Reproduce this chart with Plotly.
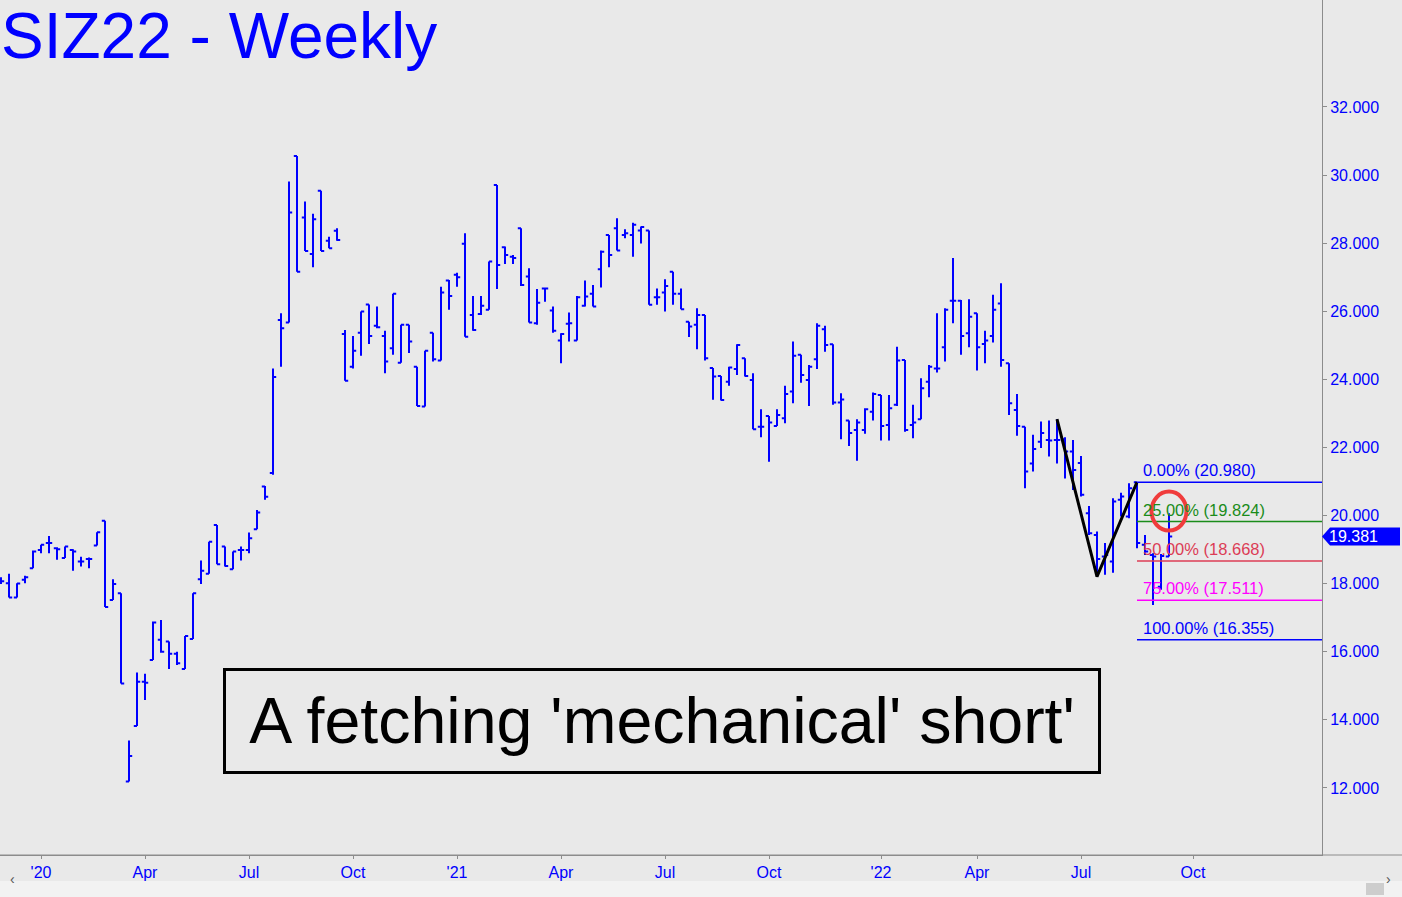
import plotly.graph_objects as go
import pandas as pd

# ---------------- data (weekly bars, Friday-dated) ----------------
first_week = "2019-11-29"

opens = [18.11, 18.01, 17.59, 18.11, 18.45, 18.99, 19.19, 19.04, 18.75, 18.99,
         18.65, 18.72, 19.12, 19.85, 17.52, 17.72, 12.19, 13.82, 15.12, 15.76,
         16.35, 16.30, 15.94, 15.49, 16.37, 18.13, 18.29, 19.72, 19.09, 18.42,
         18.99, 18.99, 19.60, 20.85, 21.25, 25.74, 25.67, 30.56, 28.75, 27.68,
         29.54, 28.07, 28.36, 25.33, 24.37, 25.37, 26.20, 25.57, 25.27, 24.91,
         24.49, 25.60, 24.37, 23.20, 25.37, 24.55, 26.90, 27.07, 27.98, 25.89,
         25.92, 26.04, 29.71, 27.88, 27.60, 28.44, 27.02, 25.65, 26.67, 26.02,
         25.14, 25.63, 25.14, 26.16, 26.51, 27.23, 28.24, 28.44, 28.24, 28.24,
         28.37, 28.37, 26.41, 26.55, 27.16, 26.51, 25.69, 25.60, 25.89, 24.33,
         24.10, 23.93, 24.30, 24.62, 23.98, 22.61, 22.92, 22.63, 22.86, 23.64,
         24.72, 23.98, 24.59, 25.47, 25.03, 23.32, 22.79, 22.51, 22.51, 23.05,
         23.54, 22.66, 23.25, 24.57, 22.66, 22.83, 23.93, 24.32, 24.94, 26.31,
         26.31, 25.35, 25.94, 25.04, 25.27, 26.23, 24.47, 23.10, 22.61, 21.53,
         22.17, 22.22, 22.22, 22.24, 21.88, 21.54, 20.07, 19.43, 18.80, 18.65,
         20.46, 19.97, 20.98, 19.14, 18.84, 17.91, 18.80]
highs = [18.19, 18.29, 18.01, 18.23, 18.97, 19.14, 19.40, 19.07, 19.09, 19.01,
         18.79, 18.77, 19.51, 19.85, 18.13, 17.72, 13.39, 15.39, 15.35, 16.89,
         16.93, 16.30, 16.00, 16.46, 17.72, 18.68, 19.23, 19.72, 19.09, 18.94,
         19.09, 19.50, 20.16, 20.87, 24.32, 25.94, 29.81, 30.56, 29.22, 28.86,
         29.54, 28.19, 28.44, 25.45, 25.27, 25.99, 26.20, 26.14, 25.43, 26.51,
         25.60, 25.60, 24.37, 24.84, 25.37, 26.72, 26.92, 27.13, 28.29, 26.45,
         26.45, 27.46, 29.71, 27.90, 27.65, 28.44, 27.26, 26.65, 26.70, 26.14,
         25.35, 25.96, 26.45, 26.90, 26.77, 27.78, 28.24, 28.73, 28.41, 28.60,
         28.49, 28.37, 26.67, 26.94, 27.16, 26.67, 25.69, 26.09, 25.89, 24.33,
         24.10, 24.37, 25.03, 24.62, 24.18, 23.12, 22.92, 23.12, 23.81, 25.11,
         24.72, 24.42, 25.65, 25.57, 25.03, 23.59, 22.79, 22.83, 23.15, 23.61,
         23.54, 23.54, 24.96, 24.57, 23.25, 24.03, 24.42, 25.94, 26.09, 27.56,
         26.33, 26.35, 25.94, 25.43, 26.48, 26.82, 24.47, 23.57, 22.61, 22.37,
         22.76, 22.79, 22.83, 22.30, 22.22, 21.75, 20.28, 19.53, 19.19, 20.51,
         20.67, 20.95, 20.98, 19.43, 18.89, 18.87, 20.07]
lows = [17.99, 17.59, 17.59, 18.01, 18.45, 18.89, 18.89, 18.70, 18.75, 18.38,
        18.50, 18.45, 19.12, 17.31, 17.52, 15.07, 12.19, 13.82, 14.58, 15.76,
        15.97, 15.49, 15.61, 15.49, 16.37, 17.99, 18.29, 18.57, 18.50, 18.42,
        18.68, 18.89, 19.60, 20.46, 21.20, 24.37, 25.67, 27.16, 27.77, 27.29,
        27.77, 27.85, 28.07, 23.96, 24.32, 24.69, 25.04, 25.50, 24.18, 24.72,
        24.49, 24.77, 23.22, 23.20, 24.52, 24.55, 26.04, 26.72, 25.25, 25.43,
        25.89, 26.04, 26.65, 27.39, 27.39, 26.74, 25.67, 25.60, 26.28, 25.37,
        24.47, 25.11, 25.14, 26.14, 26.14, 26.70, 27.29, 27.78, 28.14, 27.60,
        27.99, 26.19, 26.19, 25.99, 26.19, 26.06, 25.24, 24.88, 24.55, 23.40,
        23.38, 23.81, 24.13, 24.08, 22.53, 22.30, 21.58, 22.63, 22.71, 23.30,
        23.90, 23.22, 24.30, 24.81, 23.25, 22.24, 22.04, 21.61, 22.40, 22.79,
        22.20, 22.20, 23.22, 22.46, 22.27, 22.83, 23.47, 24.20, 24.52, 25.65,
        24.72, 24.94, 24.26, 24.47, 25.08, 24.37, 22.95, 22.34, 20.80, 21.29,
        21.98, 21.73, 21.53, 21.09, 20.75, 20.56, 19.43, 18.205, 18.26, 18.32,
        19.97, 19.92, 19.04, 18.84, 17.37, 17.82, 18.80]
closes = [18.07, 17.59, 18.00, 18.19, 18.94, 19.14, 19.19, 19.01, 19.09, 18.94,
          18.65, 18.72, 19.51, 17.31, 17.99, 15.07, 12.94, 15.12, 15.09, 16.86,
          16.00, 15.94, 15.66, 16.46, 17.72, 18.38, 19.23, 18.57, 18.52, 18.94,
          18.99, 19.33, 20.09, 20.55, 24.07, 25.50, 28.90, 27.16, 27.77, 28.70,
          27.77, 27.85, 28.09, 23.96, 24.84, 25.99, 25.27, 25.53, 24.52, 26.51,
          25.60, 25.11, 23.22, 24.84, 24.59, 26.55, 26.45, 27.00, 25.25, 25.45,
          26.16, 27.46, 27.36, 27.65, 27.56, 26.77, 25.67, 26.25, 26.67, 25.43,
          25.33, 25.65, 26.41, 26.43, 26.14, 27.75, 27.65, 27.78, 28.29, 28.54,
          28.47, 26.19, 26.41, 26.74, 26.51, 26.06, 25.55, 25.89, 24.62, 24.08,
          23.39, 24.35, 25.01, 24.10, 22.53, 22.61, 22.73, 22.95, 23.57, 24.69,
          24.13, 24.37, 25.57, 25.01, 23.32, 23.41, 22.42, 22.73, 23.12, 23.57,
          22.63, 23.15, 24.55, 22.51, 22.73, 23.74, 24.37, 24.32, 26.04, 26.31,
          25.27, 25.84, 24.94, 25.14, 26.04, 24.57, 23.30, 22.63, 21.29, 21.95,
          22.42, 22.20, 22.22, 21.88, 21.34, 20.61, 19.48, 18.72, 18.84, 20.41,
          20.56, 20.80, 19.19, 18.94, 18.80, 18.81, 19.381]

# swing points used for the "mechanical" (ABC) target
swing_bars = [132, 137, 142]
swing_vals = [22.83, 18.205, 20.98]
fib_pcts = [0, 25, 50, 75, 100]
fib_colors = ["#0000FF", "#1A8C1A", "#DC3C55", "#FF00FF", "#0000FF"]

tick_dates = ["2020-01-03", "2020-04-03", "2020-07-03", "2020-10-02", "2021-01-01",
              "2021-04-02", "2021-07-02", "2021-10-01", "2022-01-07", "2022-04-01",
              "2022-07-01", "2022-10-07"]
tick_text = ["'20", "Apr", "Jul", "Oct", "'21", "Apr", "Jul", "Oct", "'22", "Apr", "Jul", "Oct"]
y_ticks = [12, 14, 16, 18, 20, 22, 24, 26, 28, 30, 32]
last_price = closes[-1]

# ---------------- figure ----------------
BG = "#E9E9E9"
BLUE = "#0000FF"
FONT = "Liberation Sans, Arial, sans-serif"
W, H = 1402, 897
ML, MR, MT, MB = 0, 80, 0, 42
PW, PH = W - ML - MR, H - MT - MB
y_lo, y_hi = 10.03, 35.14

dates = pd.date_range(first_week, periods=len(opens), freq="7D")
base = pd.Timestamp(first_week)
x_lo = base - pd.Timedelta(days=0.125 * 7)
x_hi = base + pd.Timedelta(days=165.125 * 7)


def px_x(p):
    return (p - ML) / PW


def px_y(p):
    return (MT + PH - p) / PH


def val_to_py(v):
    return MT + PH * (1 - (v - y_lo) / (y_hi - y_lo))


fig = go.Figure()
fig.add_trace(go.Ohlc(
    x=dates, open=opens, high=highs, low=lows, close=closes,
    increasing=dict(line=dict(color=BLUE, width=2)),
    decreasing=dict(line=dict(color=BLUE, width=2)),
    tickwidth=0.4, showlegend=False, hoverinfo="skip"))

# ABC zigzag
fig.add_trace(go.Scatter(
    x=[dates[i] for i in swing_bars], y=swing_vals, mode="lines",
    line=dict(color="black", width=3), showlegend=False, hoverinfo="skip"))

A, B, C = swing_vals
target = C - (A - B)
shapes = []
annotations = []
for pct, col in zip(fib_pcts, fib_colors):
    lvl = C - pct / 100 * (C - target)
    shapes.append(dict(type="line", xref="x", yref="y",
                       x0=dates[swing_bars[2]], x1=x_hi, y0=lvl, y1=lvl,
                       line=dict(color=col, width=1.5)))
    annotations.append(dict(x=dates[swing_bars[2]], y=lvl, xref="x", yref="y",
                            xanchor="left", yanchor="middle", xshift=4, yshift=12,
                            text=f"{pct:.2f}% ({lvl:.3f})", showarrow=False,
                            font=dict(family=FONT, size=16.5, color=col)))

# red circle around the latest bar's high
shapes.append(dict(type="circle", xref="x", yref="y", xsizemode="pixel", ysizemode="pixel",
                   xanchor=dates[-1], yanchor=20.13, x0=-17.5, x1=17.5, y0=-19.5, y1=19.5,
                   line=dict(color="#F03C3C", width=4)))

# last price tag
yc = val_to_py(last_price)
pts = [(1322, yc), (1330, yc - 9), (1400, yc - 9), (1400, yc + 9), (1330, yc + 9)]
path = "M " + " L ".join(f"{px_x(a):.5f},{px_y(b):.5f}" for a, b in pts) + " Z"
shapes.append(dict(type="path", xref="paper", yref="paper", path=path,
                   fillcolor=BLUE, line=dict(width=0)))
annotations.append(dict(x=px_x(1327), y=last_price, xref="paper", yref="y",
                        xanchor="left", yanchor="middle", text=f"{last_price:.3f}",
                        showarrow=False, font=dict(family=FONT, size=16, color="white")))

# bottom axis line across the whole width
shapes.append(dict(type="line", xref="paper", yref="paper", x0=0, x1=px_x(W), y0=0, y1=0,
                   line=dict(color="#8C8C8C", width=1)))
# scrollbar
shapes.append(dict(type="rect", xref="paper", yref="paper", x0=0, x1=px_x(W), layer="below",
                   y0=px_y(897), y1=px_y(881), fillcolor="#F2F2F2", line=dict(width=0)))
shapes.append(dict(type="rect", xref="paper", yref="paper", x0=px_x(1366), x1=px_x(1384),
                   layer="below", y0=px_y(895), y1=px_y(883), fillcolor="#CDCDCD",
                   line=dict(width=0)))
for xx, ch in [(8, "\u2039"), (1393, "\u203A")]:
    annotations.append(dict(x=px_x(xx), y=px_y(888.5), xref="paper", yref="paper",
                            text=ch, showarrow=False,
                            font=dict(family=FONT, size=14, color="#555555")))

# title
annotations.append(dict(x=0, y=1, xref="paper", yref="paper", xanchor="left", yanchor="top",
                        text="SIZ22 - Weekly", showarrow=False, xshift=-1, yshift=2,
                        font=dict(family=FONT, size=64, color=BLUE)))
# comment box
annotations.append(dict(x=px_x(662), y=px_y(721), xref="paper", yref="paper",
                        xanchor="center", yanchor="middle",
                        text="A fetching 'mechanical' short'", showarrow=False,
                        width=868, height=96, borderpad=2, borderwidth=3,
                        bordercolor="black", bgcolor=BG,
                        font=dict(family=FONT, size=64.5, color="black")))

fig.update_layout(
    width=W, height=H, margin=dict(l=ML, r=MR, t=MT, b=MB),
    paper_bgcolor=BG, plot_bgcolor=BG, showlegend=False,
    shapes=shapes, annotations=annotations,
    xaxis=dict(type="date", range=[x_lo, x_hi], rangeslider=dict(visible=False),
               tickvals=tick_dates, ticktext=tick_text, ticks="outside", ticklen=3,
               tickcolor="#8C8C8C", showgrid=False, zeroline=False, showline=True,
               linecolor="#8C8C8C", tickfont=dict(family=FONT, size=16, color=BLUE)),
    yaxis=dict(side="right", range=[y_lo, y_hi], tickvals=y_ticks, tickformat=".3f",
               ticks="outside", ticklen=4, tickcolor="#8C8C8C", showgrid=False,
               zeroline=False, showline=True, linecolor="#8C8C8C",
               tickfont=dict(family=FONT, size=16, color=BLUE)),
)

fig.write_html("out.html", config={"displayModeBar": False},
               post_script="document.body.style.margin='0px';")
